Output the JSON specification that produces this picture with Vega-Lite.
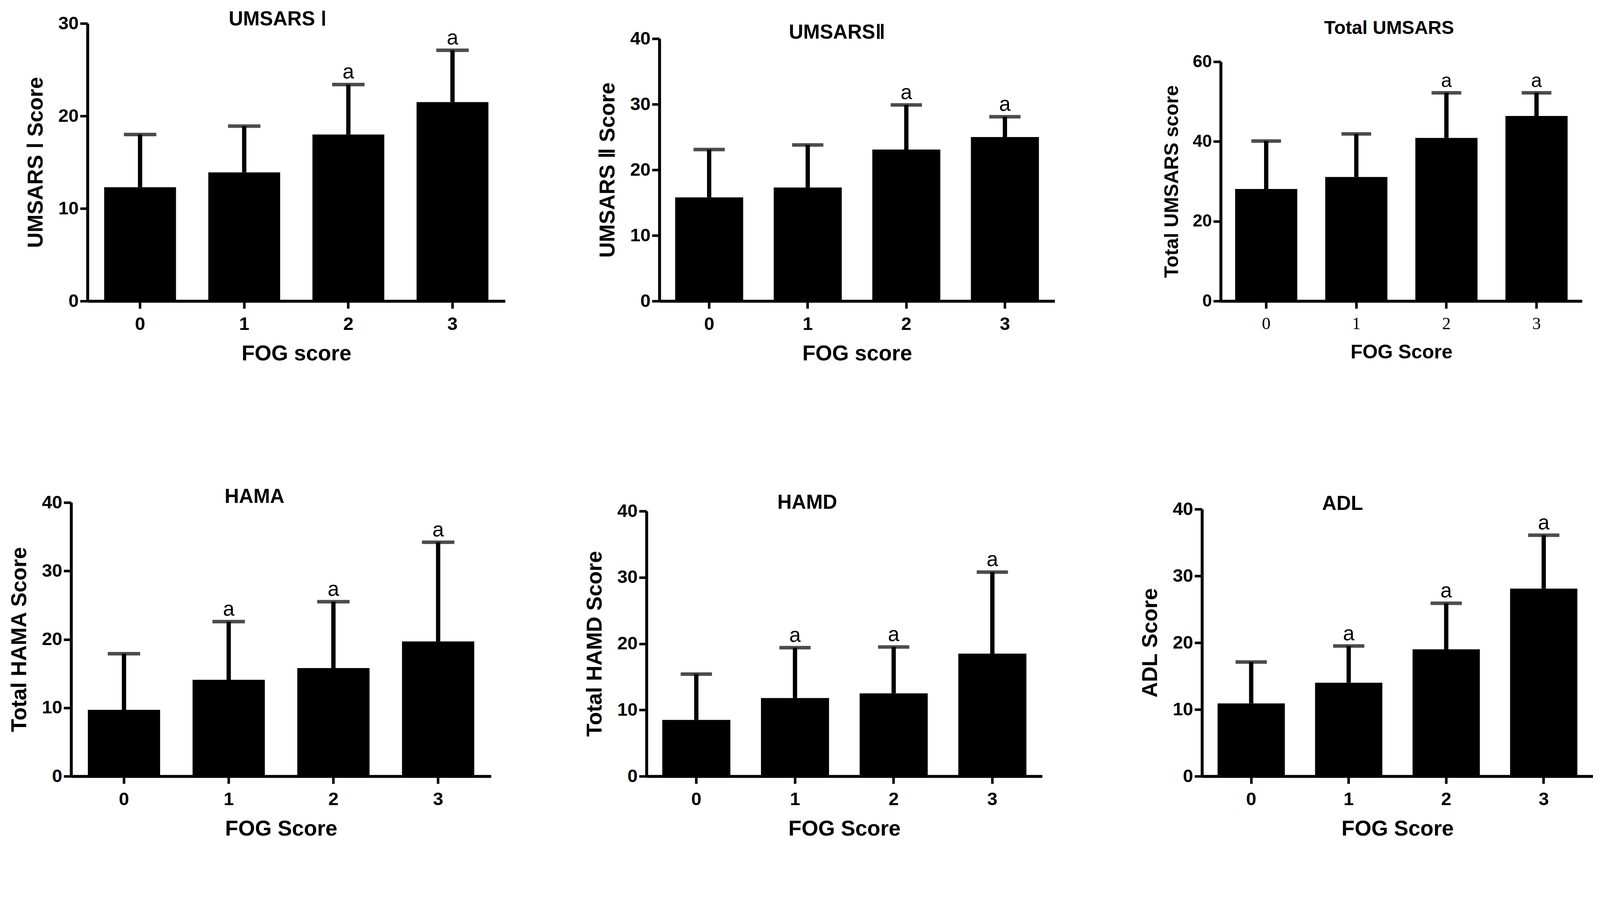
{
  "$schema": "https://vega.github.io/schema/vega-lite/v6.json",
  "background": "white",
  "padding": {"left": 22, "top": 24, "right": 0, "bottom": 0},
  "datasets": {
    "scores": [
      {"panel": "U1", "fog": "0", "mean": 12.3, "err": 18.0, "sig": ""},
      {"panel": "U1", "fog": "1", "mean": 13.9, "err": 18.9, "sig": ""},
      {"panel": "U1", "fog": "2", "mean": 18.0, "err": 23.4, "sig": "a"},
      {"panel": "U1", "fog": "3", "mean": 21.5, "err": 27.1, "sig": "a"},
      {"panel": "U2", "fog": "0", "mean": 15.8, "err": 23.1, "sig": ""},
      {"panel": "U2", "fog": "1", "mean": 17.3, "err": 23.8, "sig": ""},
      {"panel": "U2", "fog": "2", "mean": 23.1, "err": 29.9, "sig": "a"},
      {"panel": "U2", "fog": "3", "mean": 25.0, "err": 28.1, "sig": "a"},
      {"panel": "UT", "fog": "0", "mean": 28.1, "err": 40.1, "sig": ""},
      {"panel": "UT", "fog": "1", "mean": 31.1, "err": 41.9, "sig": ""},
      {"panel": "UT", "fog": "2", "mean": 40.9, "err": 52.2, "sig": "a"},
      {"panel": "UT", "fog": "3", "mean": 46.4, "err": 52.2, "sig": "a"},
      {"panel": "HAMA", "fog": "0", "mean": 9.7, "err": 17.9, "sig": ""},
      {"panel": "HAMA", "fog": "1", "mean": 14.1, "err": 22.6, "sig": "a"},
      {"panel": "HAMA", "fog": "2", "mean": 15.8, "err": 25.5, "sig": "a"},
      {"panel": "HAMA", "fog": "3", "mean": 19.7, "err": 34.2, "sig": "a"},
      {"panel": "HAMD", "fog": "0", "mean": 8.5, "err": 15.4, "sig": ""},
      {"panel": "HAMD", "fog": "1", "mean": 11.8, "err": 19.4, "sig": "a"},
      {"panel": "HAMD", "fog": "2", "mean": 12.5, "err": 19.5, "sig": "a"},
      {"panel": "HAMD", "fog": "3", "mean": 18.5, "err": 30.8, "sig": "a"},
      {"panel": "ADL", "fog": "0", "mean": 10.9, "err": 17.1, "sig": ""},
      {"panel": "ADL", "fog": "1", "mean": 14.0, "err": 19.5, "sig": "a"},
      {"panel": "ADL", "fog": "2", "mean": 19.0, "err": 25.9, "sig": "a"},
      {"panel": "ADL", "fog": "3", "mean": 28.1, "err": 36.1, "sig": "a"}
    ]
  },
  "columns": 3,
  "spacing": {"row": 516, "column": 362},
  "bounds": "flush",
  "align": "each",
  "concat": [
    {
      "title": {"text": "UMSARS Ⅰ", "offset": -40, "dx": -27},
      "width": 1111,
      "height": 719,
      "data": {"name": "scores"},
      "transform": [{"filter": "datum.panel == 'U1'"}],
      "encoding": {
        "x": {"field": "fog", "type": "ordinal", "scale": {"range": [42, 1111]}, "axis": {"title": "FOG score"}}
      },
      "layer": [
        {"mark": {"type": "bar", "color": "black"},
         "encoding": {"y": {"field": "mean", "type": "quantitative", "scale": {"domain": [0, 30], "nice": false, "range": [719, 8]}, "axis": {"title": "UMSARS Ⅰ Score", "values": [0, 10, 20, 30], "offset": -42}}}},
        {"mark": {"type": "rule", "color": "black", "strokeWidth": 11}, "encoding": {"y": {"field": "mean", "type": "quantitative"}, "y2": {"field": "err"}}},
        {"mark": {"type": "tick", "color": "black", "size": 83, "thickness": 9, "orient": "horizontal"}, "encoding": {"y": {"field": "err", "type": "quantitative"}}},
        {"mark": {"type": "text", "color": "black", "font": "Liberation Sans", "fontSize": 53, "baseline": "alphabetic", "dy": -15}, "encoding": {"y": {"field": "err", "type": "quantitative"}, "text": {"field": "sig"}}}
      ]
    },
    {
      "title": {"text": "UMSARSⅡ", "offset": -58, "dx": -35},
      "width": 1045,
      "height": 719,
      "data": {"name": "scores"},
      "transform": [{"filter": "datum.panel == 'U2'"}],
      "encoding": {
        "x": {"field": "fog", "type": "ordinal", "scale": {"range": [33, 1045]}, "axis": {"title": "FOG score"}}
      },
      "layer": [
        {"mark": {"type": "bar", "color": "black"},
         "encoding": {"y": {"field": "mean", "type": "quantitative", "scale": {"domain": [0, 40], "nice": false, "range": [719, 47]}, "axis": {"title": "UMSARS Ⅱ Score", "values": [0, 10, 20, 30, 40], "offset": -33}}}},
        {"mark": {"type": "rule", "color": "black", "strokeWidth": 11}, "encoding": {"y": {"field": "mean", "type": "quantitative"}, "y2": {"field": "err"}}},
        {"mark": {"type": "tick", "color": "black", "size": 80, "thickness": 9, "orient": "horizontal"}, "encoding": {"y": {"field": "err", "type": "quantitative"}}},
        {"mark": {"type": "text", "color": "black", "font": "Liberation Sans", "fontSize": 53, "baseline": "alphabetic", "dy": -15}, "encoding": {"y": {"field": "err", "type": "quantitative"}, "text": {"field": "sig"}}}
      ]
    },
    {
      "title": {"text": "Total UMSARS", "offset": -45, "fontSize": 48},
      "width": 988,
      "height": 719,
      "data": {"name": "scores"},
      "transform": [{"filter": "datum.panel == 'UT'"}],
      "encoding": {
        "x": {"field": "fog", "type": "ordinal", "scale": {"range": [63, 988]}, "axis": {"title": "FOG Score", "titleFontSize": 50, "labelFont": "Liberation Serif", "labelFontWeight": "normal", "labelFontSize": 44}}
      },
      "layer": [
        {"mark": {"type": "bar", "color": "black"},
         "encoding": {"y": {"field": "mean", "type": "quantitative", "scale": {"domain": [0, 60], "nice": false, "range": [719, 106]}, "axis": {"title": "Total UMSARS score", "titleFontSize": 50, "labelFontSize": 44, "values": [0, 20, 40, 60], "offset": -63}}}},
        {"mark": {"type": "rule", "color": "black", "strokeWidth": 11}, "encoding": {"y": {"field": "mean", "type": "quantitative"}, "y2": {"field": "err"}}},
        {"mark": {"type": "tick", "color": "black", "size": 76, "thickness": 9, "orient": "horizontal"}, "encoding": {"y": {"field": "err", "type": "quantitative"}}},
        {"mark": {"type": "text", "color": "black", "font": "Liberation Sans", "fontSize": 50, "baseline": "alphabetic", "dy": -15}, "encoding": {"y": {"field": "err", "type": "quantitative"}, "text": {"field": "sig"}}}
      ]
    },
    {
      "title": {"text": "HAMA", "offset": -36, "dx": -68},
      "width": 1075,
      "height": 701,
      "data": {"name": "scores"},
      "transform": [{"filter": "datum.panel == 'HAMA'"}],
      "encoding": {
        "x": {"field": "fog", "type": "ordinal", "axis": {"title": "FOG Score"}}
      },
      "layer": [
        {"mark": {"type": "bar", "color": "black"},
         "encoding": {"y": {"field": "mean", "type": "quantitative", "scale": {"domain": [0, 40], "nice": false, "range": [701, 0]}, "axis": {"title": "Total HAMA Score", "values": [0, 10, 20, 30, 40]}}}},
        {"mark": {"type": "rule", "color": "black", "strokeWidth": 11}, "encoding": {"y": {"field": "mean", "type": "quantitative"}, "y2": {"field": "err"}}},
        {"mark": {"type": "tick", "color": "black", "size": 83, "thickness": 9, "orient": "horizontal"}, "encoding": {"y": {"field": "err", "type": "quantitative"}}},
        {"mark": {"type": "text", "color": "black", "font": "Liberation Sans", "fontSize": 53, "baseline": "alphabetic", "dy": -15}, "encoding": {"y": {"field": "err", "type": "quantitative"}, "text": {"field": "sig"}}}
      ]
    },
    {
      "title": {"text": "HAMD", "offset": -29, "dx": -95},
      "width": 1013,
      "height": 701,
      "data": {"name": "scores"},
      "transform": [{"filter": "datum.panel == 'HAMD'"}],
      "encoding": {
        "x": {"field": "fog", "type": "ordinal", "axis": {"title": "FOG Score"}}
      },
      "layer": [
        {"mark": {"type": "bar", "color": "black"},
         "encoding": {"y": {"field": "mean", "type": "quantitative", "scale": {"domain": [0, 40], "nice": false, "range": [701, 22]}, "axis": {"title": "Total HAMD Score", "values": [0, 10, 20, 30, 40]}}}},
        {"mark": {"type": "rule", "color": "black", "strokeWidth": 11}, "encoding": {"y": {"field": "mean", "type": "quantitative"}, "y2": {"field": "err"}}},
        {"mark": {"type": "tick", "color": "black", "size": 80, "thickness": 9, "orient": "horizontal"}, "encoding": {"y": {"field": "err", "type": "quantitative"}}},
        {"mark": {"type": "text", "color": "black", "font": "Liberation Sans", "fontSize": 53, "baseline": "alphabetic", "dy": -15}, "encoding": {"y": {"field": "err", "type": "quantitative"}, "text": {"field": "sig"}}}
      ]
    },
    {
      "title": {"text": "ADL", "offset": -37, "dx": -133},
      "width": 1016,
      "height": 701,
      "data": {"name": "scores"},
      "transform": [{"filter": "datum.panel == 'ADL'"}],
      "encoding": {
        "x": {"field": "fog", "type": "ordinal", "scale": {"range": [15, 1016]}, "axis": {"title": "FOG Score"}}
      },
      "layer": [
        {"mark": {"type": "bar", "color": "black"},
         "encoding": {"y": {"field": "mean", "type": "quantitative", "scale": {"domain": [0, 40], "nice": false, "range": [701, 17]}, "axis": {"title": "ADL Score", "values": [0, 10, 20, 30, 40], "offset": -15}}}},
        {"mark": {"type": "rule", "color": "black", "strokeWidth": 11}, "encoding": {"y": {"field": "mean", "type": "quantitative"}, "y2": {"field": "err"}}},
        {"mark": {"type": "tick", "color": "black", "size": 80, "thickness": 9, "orient": "horizontal"}, "encoding": {"y": {"field": "err", "type": "quantitative"}}},
        {"mark": {"type": "text", "color": "black", "font": "Liberation Sans", "fontSize": 53, "baseline": "alphabetic", "dy": -15}, "encoding": {"y": {"field": "err", "type": "quantitative"}, "text": {"field": "sig"}}}
      ]
    }
  ],
  "config": {
    "view": {"stroke": null},
    "scale": {"bandPaddingInner": 0.31, "bandPaddingOuter": 0.16},
    "axis": {
      "grid": false,
      "domainColor": "black",
      "domainWidth": 7.5,
      "tickColor": "black",
      "tickWidth": 6.5,
      "tickSize": 19,
      "labelFont": "Liberation Sans",
      "labelFontWeight": "bold",
      "labelFontSize": 47,
      "labelColor": "black",
      "titleFont": "Liberation Sans",
      "titleFontWeight": "bold",
      "titleFontSize": 55,
      "titleColor": "black"
    },
    "axisX": {"labelAngle": 0, "labelPadding": 17, "titlePadding": 26},
    "axisY": {"labelPadding": 4, "titlePadding": 28},
    "title": {"font": "Liberation Sans", "fontWeight": "bold", "fontSize": 51, "color": "black", "anchor": "middle"}
  }
}
